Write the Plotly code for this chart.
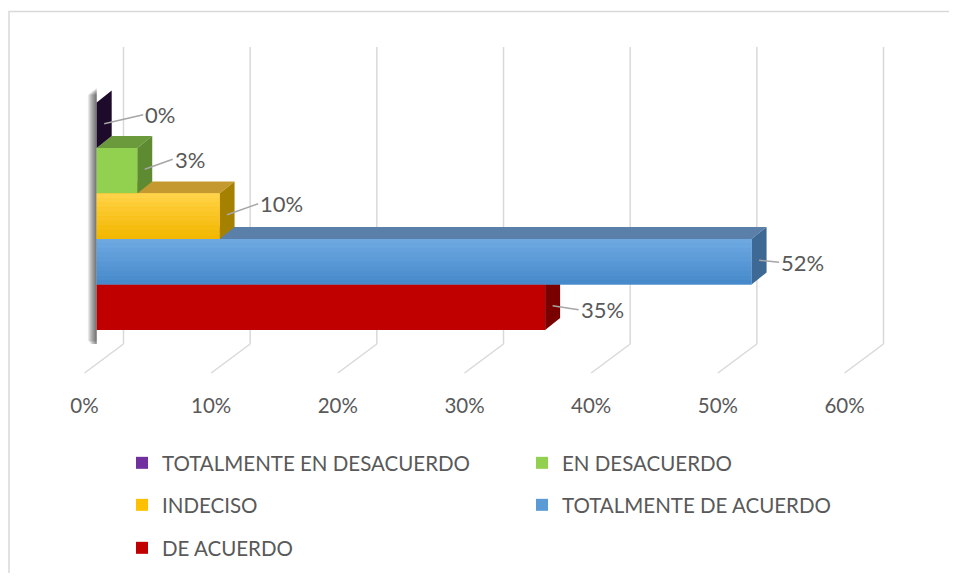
import plotly.graph_objects as go

# ---------------- data ----------------
categories = ["TOTALMENTE EN DESACUERDO", "EN DESACUERDO", "INDECISO",
              "TOTALMENTE DE ACUERDO", "DE ACUERDO"]
values = [0.000, 0.032, 0.097, 0.517, 0.354]
tick_values = [0.0, 0.1, 0.2, 0.3, 0.4, 0.5, 0.6]

# ---------------- style ----------------
front_colors = ["#7030A0", "#92D050", "#FFC000", "#5B9BD5", "#C00000"]
grad_top = [None, None, "#FFD247", "#6DA8E1", None]
grad_bottom = [None, None, "#F2B700", "#478ACB", None]
top_colors = ["#3A1452", "#6B9A3C", "#C49A30", "#5A7FA8", "#8B0000"]
side_colors = ["#1E0A2A", "#5E8A32", "#A68100", "#3D6994", "#7A0000"]
TEXT = "#595959"
GRID = "#D9D9D9"
FONT = "Lato"

OFF = 8                       # page body margin of the browser
W, H = 957 - 2 * OFF, 581 - 2 * OFF
# plot area in window pixels
PL, PR, PT, PB = 60, 930, 47, 344
ML, MR, MT, MB = PL - OFF, W - (PR - OFF), PT - OFF, H - (PB - OFF)
PW = PR - PL
PH = PB - PT
PX_PER_UNIT = 1266.7          # pixels per 100 %
BAR_ZERO_PX = 96.7            # x pixel of the bars' zero
FRONT_ZERO_PX = 84.5          # x pixel of the front (label) plane zero
BACK_ZERO_PX = 123.5          # x pixel of the back wall zero
SLOT_PX = 45.5                # height of one category slot
LAST_SLOT_BOTTOM_PX = 330.0
DEPTH_X_PX, DEPTH_Y_PX = 15.0, 12.0
FLOOR_FRONT_PX = 373.0


def xr(zero_px):
    return [(PL - zero_px) / PX_PER_UNIT, (PR - zero_px) / PX_PER_UNIT]


n = len(categories)
y_bottom = (n - 0.5) + (PB - LAST_SLOT_BOTTOM_PX) / SLOT_PX
y_top = (n - 0.5) - (LAST_SLOT_BOTTOM_PX - PT) / SLOT_PX
dx = DEPTH_X_PX / PX_PER_UNIT
dy = DEPTH_Y_PX / SLOT_PX
back_off = (BACK_ZERO_PX - BAR_ZERO_PX) / PX_PER_UNIT
front_off = (FRONT_ZERO_PX - BAR_ZERO_PX) / PX_PER_UNIT
floor_paper = -(FLOOR_FRONT_PX - PB) / PH

fig = go.Figure()

legend_ids = ["legend", "legend2", "legend3", "legend4", "legend5"]
for i, (cat, v) in enumerate(zip(categories, values)):
    fig.add_trace(go.Bar(
        x=[v], y=[i], orientation="h", width=1, name=cat,
        marker=dict(color=front_colors[i], line=dict(width=0)),
        legend=legend_ids[i],
        hovertemplate=cat + ": %{x:.0%}<extra></extra>",
    ))

# dummy trace for the front label axis
fig.add_trace(go.Scatter(x=[None], y=[None], xaxis="x2", yaxis="y",
                         showlegend=False, hoverinfo="skip"))

shapes = []
# back wall + floor lines
for t in tick_values:
    xb = t + back_off
    xf = t + front_off
    shapes.append(dict(type="line", xref="x", yref="paper", x0=xb, x1=xb, y0=0, y1=1,
                       line=dict(color=GRID, width=1.5), layer="below"))
    shapes.append(dict(type="line", xref="x", yref="paper", x0=xb, x1=xf, y0=0, y1=floor_paper,
                       line=dict(color=GRID, width=1.5), layer="below"))

# soft shadow left of the bars
for k in range(8):
    w = (k + 1) * 1.1 / PX_PER_UNIT
    shapes.append(dict(type="rect", xref="x", yref="y", x0=-w, x1=0,
                       y0=-0.5 - dy - 0.05 + k * 0.02, y1=n - 0.5 + 0.45 - k * 0.03,
                       fillcolor="black", opacity=0.09, line=dict(width=0), layer="below"))

# 3D top and side faces (drawn bottom bar first)
for i in reversed(range(n)):
    v = values[i]
    yt = i - 0.5
    yb = i + 0.5
    top = f"M0,{yt} L{v},{yt} L{v+dx},{yt-dy} L{dx},{yt-dy} Z"
    side = f"M{v},{yt} L{v},{yb} L{v+dx},{yb-dy} L{v+dx},{yt-dy} Z"
    shapes.append(dict(type="path", xref="x", yref="y", path=top,
                       fillcolor=top_colors[i], line=dict(width=0), layer="below"))
    shapes.append(dict(type="path", xref="x", yref="y", path=side,
                       fillcolor=side_colors[i], line=dict(width=0), layer="below"))


def hex2rgb(h):
    h = h.lstrip("#")
    return tuple(int(h[j:j + 2], 16) for j in (0, 2, 4))


# vertical gradient on front faces
STRIPS = 10
for i, v in enumerate(values):
    if grad_top[i] is None or v <= 0:
        continue
    c0, c1 = hex2rgb(grad_top[i]), hex2rgb(grad_bottom[i])
    for s in range(STRIPS):
        f = s / (STRIPS - 1)
        col = "rgb(%d,%d,%d)" % tuple(round(a + (b - a) * f) for a, b in zip(c0, c1))
        shapes.append(dict(type="rect", xref="x", yref="y", x0=0, x1=v,
                           y0=i - 0.5 + s / STRIPS, y1=i - 0.5 + (s + 1) / STRIPS + 0.002,
                           fillcolor=col, line=dict(width=0), layer="above"))


# outer frame
def px_x(p):
    return (p - PL) / PW


def px_y(p):
    return (PB - p) / PH


shapes.append(dict(type="rect", xref="paper", yref="paper",
                   x0=px_x(9), x1=px_x(990), y0=px_y(620), y1=px_y(11.5),
                   line=dict(color=GRID, width=1.5), fillcolor="rgba(0,0,0,0)", layer="below"))

# data labels with leader lines
label_offsets = [(39, -9), (28, -10), (31, -11), (20, 2), (26, 4)]
annotations = []
for i, v in enumerate(values):
    ax, ay = label_offsets[i]
    annotations.append(dict(
        x=v + dx / 2, y=i - dy / 2 + 0.1, xref="x", yref="y",
        text=f"{round(v * 100):.0f}%", showarrow=True, arrowhead=0,
        arrowcolor="#A6A6A6", arrowwidth=1.5, ax=ax, ay=ay,
        xanchor="left", yanchor="middle", standoff=0,
        font=dict(family=FONT, size=22, color=TEXT),
    ))

legend_common = dict(orientation="h", xref="container", yref="container",
                     xanchor="left", yanchor="middle", itemwidth=30,
                     font=dict(family=FONT, size=20.5, color=TEXT),
                     bgcolor="rgba(0,0,0,0)")
# legend positions (window pixels: left, middle)
legend_pos = [(122, 463), (522, 463), (122, 505), (522, 505), (122, 548)]
legends = {}
for lid, (lx, ly) in zip(legend_ids, legend_pos):
    legends[lid] = dict(x=(lx - OFF) / W, y=1 - (ly - OFF) / H, **legend_common)

fig.update_layout(
    width=W, height=H,
    margin=dict(l=ML, r=MR, t=MT, b=MB),
    paper_bgcolor="white", plot_bgcolor="white",
    barmode="overlay",
    showlegend=True,
    xaxis=dict(range=xr(BAR_ZERO_PX), visible=False, showgrid=False, zeroline=False),
    xaxis2=dict(range=xr(FRONT_ZERO_PX), overlaying="x", side="bottom", anchor="y",
                tickvals=tick_values, tickformat=".0%", showgrid=False, zeroline=False,
                showline=False, ticks="", ticklabelstandoff=47,
                tickfont=dict(family=FONT, size=20.5, color=TEXT)),
    yaxis=dict(range=[y_bottom, y_top], visible=False, showgrid=False, zeroline=False),
    shapes=shapes,
    annotations=annotations,
    font=dict(family=FONT, color=TEXT),
    **legends,
)

fig.write_html("out.html")
